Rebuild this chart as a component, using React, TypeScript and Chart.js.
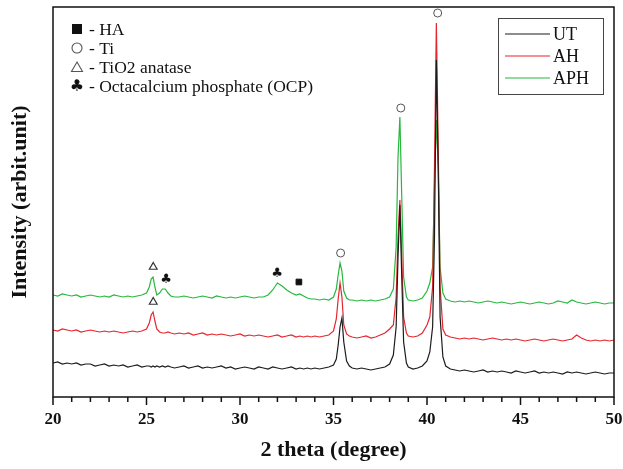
import React, { useEffect, useRef } from "react";
import { Chart, registerables } from "chart.js";

Chart.register(...registerables);

// 2-theta positions (degree)
const twoTheta = [
  20, 20.25, 20.5, 20.75, 21, 21.25, 21.5, 21.75, 22, 22.25, 22.5, 22.75, 23, 23.25, 23.5, 23.75, 24, 24.25, 24.5, 24.75, 25,
  25.15, 25.25, 25.35, 25.45, 25.55, 25.7, 25.85,
  26, 26.15, 26.3, 26.5,
  26.75, 27, 27.25, 27.5, 27.75, 28, 28.25, 28.5, 28.75, 29, 29.25, 29.5, 29.75, 30, 30.25, 30.5, 30.75, 31, 31.25, 31.5, 31.75, 32, 32.25, 32.5, 32.75, 33,
  33.2, 33.4, 33.6, 33.8,
  34, 34.25, 34.5, 34.75, 35,
  35.15, 35.25, 35.35, 35.45, 35.55, 35.7, 35.85,
  36, 36.25, 36.5, 36.75, 37, 37.25, 37.5, 37.75, 38,
  38.2, 38.35, 38.45, 38.55, 38.65, 38.75, 38.9,
  39, 39.25, 39.5, 39.75, 40,
  40.15, 40.3, 40.4, 40.5, 40.6, 40.7, 40.85,
  41, 41.25, 41.5, 41.75, 42, 42.25, 42.5, 42.75, 43, 43.25, 43.5, 43.75, 44, 44.25, 44.5, 44.75, 45, 45.25, 45.5, 45.75,
  46, 46.25, 46.5, 46.75, 47, 47.25, 47.5, 47.75, 48, 48.25, 48.5, 48.75, 49, 49.25, 49.5, 49.75, 50,
];

const utValues = [
  34, 35, 33, 34, 33, 34, 32, 33, 33, 31, 32, 33, 31, 32, 31, 32, 30, 31, 32, 30, 31,
  31, 30, 31, 30, 31, 30, 31,
  30, 31, 30, 29,
  30, 31, 29, 30, 31, 29, 30, 29, 30, 31, 29, 30, 28, 29, 30, 29, 28, 30, 29, 28, 30, 29, 28, 29, 30, 28,
  29, 28, 29, 28,
  29, 28, 29, 30, 32,
  38, 52, 70, 79, 55, 36, 31,
  29, 28, 29, 28, 27, 28, 29, 30, 33,
  42, 70, 140, 192, 120, 55, 34,
  30, 28, 29, 31, 36,
  45, 70, 160, 337, 230, 80, 40,
  31, 28, 27, 26, 27, 26, 25, 26, 27, 25, 26, 25, 26, 25, 24, 26, 25, 24, 25, 26,
  24, 25, 24, 25, 24, 23, 25, 24, 25, 24, 23, 24, 25, 24, 23, 24, 24,
];

const ahValues = [
  67, 66, 68, 67, 66, 67, 65, 66, 67, 66, 65, 66, 65, 66, 65, 64, 65, 66, 65, 66, 68,
  74, 82, 85, 76, 68, 65, 64,
  64, 65, 64, 63,
  64, 63, 64, 62, 63, 64, 62, 63, 62, 63, 62, 61, 62, 63, 61, 62, 61, 62, 61, 60, 61, 62, 60, 61, 62, 60,
  61, 60, 61, 60,
  61, 60, 61, 62, 66,
  78, 98, 114, 100, 72, 63, 61,
  60, 59, 60, 61, 59, 60, 62, 64, 68,
  72, 100, 160, 197, 140, 80, 64,
  61, 60, 61, 64, 72,
  80, 110, 230, 374, 250, 110, 68,
  62, 60, 59, 58, 59, 58, 59, 58, 57, 58, 59, 58, 57, 58, 57, 58, 57, 56, 57, 58,
  57, 56, 57, 58, 57, 56, 57, 58, 62, 59, 57, 56, 57, 56, 57, 56, 57,
];

const aphValues = [
  102, 101, 103, 102, 101, 102, 100, 101, 102, 101, 100, 101, 100, 102, 101, 100, 101, 100, 101, 102, 104,
  110, 118, 120, 110, 102, 104, 108,
  108, 104, 101, 100,
  100, 101, 100, 99, 100, 101, 100, 99, 101, 100, 99, 100, 99, 100, 101, 100, 99, 100, 100, 102, 107, 114, 111, 107, 104, 102,
  103, 101, 99, 98,
  98, 97, 98, 97, 100,
  108, 122, 134, 126, 106, 99, 97,
  97, 96, 97, 96, 97, 96, 97, 98, 100,
  108, 150, 240, 280, 200, 120, 100,
  97, 96, 97, 99, 106,
  114, 130, 210, 277, 230, 130, 104,
  98, 96, 95, 96, 95, 96, 95, 94, 95, 96, 95, 94, 95, 94, 93, 94, 95, 94, 93, 94,
  95, 94, 93, 94, 96, 95, 94, 97, 95, 94, 93, 94, 95, 94, 93, 94, 94,
];

const seriesLabels = ["UT", "AH", "APH"];
const seriesColors = ["#1c1c1c", "#e5262e", "#26b83e"];

const xTickValues = [20, 25, 30, 35, 40, 45, 50];

// phase markers placed over the peaks
const haMarks = [{ x: 33.15, y: 115 }];
const tiMarks = [
  { x: 35.38, y: 144 },
  { x: 38.6, y: 289 },
  { x: 40.57, y: 384 },
];
const anataseMarks = [
  { x: 25.36, y: 130 },
  { x: 25.36, y: 95 },
];
const ocpMarks = [
  { x: 26.04, y: 118 },
  { x: 31.98, y: 124 },
];

const phaseNames = ["HA", "Ti", "TiO2 anatase", "Octacalcium phosphate (OCP)"];

const SERIF = "'Liberation Serif', 'Times New Roman', serif";

export default function App() {
  const ref = useRef<HTMLCanvasElement | null>(null);

  useEffect(() => {
    if (!ref.current) return;

    const club = document.createElement("canvas");
    club.width = 14;
    club.height = 14;
    const cctx = club.getContext("2d")!;
    cctx.fillStyle = "#111";
    cctx.font = "13px 'DejaVu Sans'";
    cctx.textAlign = "center";
    cctx.textBaseline = "middle";
    cctx.fillText("♣", 7, 7.5);

    const drawSymbol = (ctx: CanvasRenderingContext2D, kind: number, cx: number, cy: number) => {
      ctx.save();
      if (kind === 0) {
        ctx.fillStyle = "#111";
        ctx.fillRect(cx - 5, cy - 5, 10, 10);
      } else if (kind === 1) {
        ctx.strokeStyle = "#555";
        ctx.lineWidth = 1.1;
        ctx.beginPath();
        ctx.arc(cx, cy, 5, 0, Math.PI * 2);
        ctx.stroke();
      } else if (kind === 2) {
        ctx.strokeStyle = "#555";
        ctx.lineWidth = 1.1;
        ctx.beginPath();
        ctx.moveTo(cx, cy - 5);
        ctx.lineTo(cx + 5.5, cy + 4.5);
        ctx.lineTo(cx - 5.5, cy + 4.5);
        ctx.closePath();
        ctx.stroke();
      } else {
        ctx.fillStyle = "#111";
        ctx.font = "16px 'DejaVu Sans'";
        ctx.textAlign = "center";
        ctx.textBaseline = "middle";
        ctx.fillText("♣", cx, cy + 1);
      }
      ctx.restore();
    };

    const framePlugin = {
      id: "framePlugin",
      afterDraw(chart: any) {
        const { ctx, chartArea } = chart;
        const xs = chart.scales.x;
        ctx.save();
        ctx.strokeStyle = "#111";
        ctx.lineWidth = 1.5;
        ctx.strokeRect(chartArea.left, chartArea.top, chartArea.right - chartArea.left, chartArea.bottom - chartArea.top);
        // tick marks (major every 5, minor every 1)
        for (let v = 20; v <= 50; v++) {
          const px = xs.getPixelForValue(v);
          const len = v % 5 === 0 ? 8 : 5;
          ctx.beginPath();
          ctx.moveTo(px, chartArea.bottom);
          ctx.lineTo(px, chartArea.bottom + len);
          ctx.stroke();
        }

        // phase legend, top-left
        ctx.textBaseline = "middle";
        phaseNames.forEach((name, i) => {
          const y = 29 + i * 19;
          drawSymbol(ctx, i, 77, y);
          ctx.fillStyle = "#111";
          ctx.font = `17.5px ${SERIF}`;
          ctx.fillText("- " + name, 89, y + 1);
        });

        // series legend, top-right
        const bx = 498, by = 18, bw = 105, bh = 76;
        ctx.lineWidth = 1;
        ctx.strokeStyle = "#444";
        ctx.strokeRect(bx + 0.5, by + 0.5, bw, bh);
        seriesLabels.forEach((lab, i) => {
          const y = by + 16 + i * 22;
          ctx.strokeStyle = seriesColors[i];
          ctx.lineWidth = 1.2;
          ctx.beginPath();
          ctx.moveTo(bx + 7, y);
          ctx.lineTo(bx + 52, y);
          ctx.stroke();
          ctx.fillStyle = "#111";
          ctx.font = `18px ${SERIF}`;
          ctx.fillText(lab, bx + 55, y + 1);
        });
        ctx.restore();
      },
    };

    const lineDatasets = [utValues, ahValues, aphValues].map((vals, i) => ({
      type: "line" as const,
      label: seriesLabels[i],
      data: twoTheta.map((t, k) => ({ x: t, y: vals[k] })),
      borderColor: seriesColors[i],
      borderWidth: 1.2,
      pointRadius: 0,
      tension: 0,
      order: i,
    }));

    const markerDatasets = [
      { type: "scatter" as const, label: "HA", data: haMarks, pointStyle: "rect", pointRadius: 4, backgroundColor: "#111", borderColor: "#111", borderWidth: 1, order: -1 },
      { type: "scatter" as const, label: "Ti", data: tiMarks, pointStyle: "circle", pointRadius: 4, backgroundColor: "#fff", borderColor: "#555", borderWidth: 1, order: -1 },
      { type: "scatter" as const, label: "TiO2 anatase", data: anataseMarks, pointStyle: "triangle", pointRadius: 4.5, backgroundColor: "#fff", borderColor: "#333", borderWidth: 1.2, order: -1 },
      { type: "scatter" as const, label: "OCP", data: ocpMarks, pointStyle: club, pointRadius: 6, backgroundColor: "#111", borderColor: "#111", order: -1 },
    ];

    const chart = new Chart(ref.current, {
      type: "line",
      data: { datasets: [...lineDatasets, ...markerDatasets] as any },
      options: {
        animation: false,
        responsive: false,
        maintainAspectRatio: false,
        layout: { padding: { top: 7, right: 0, left: 0, bottom: 0 } },
        plugins: { legend: { display: false }, tooltip: { enabled: false } },
        scales: {
          x: {
            type: "linear",
            min: 20,
            max: 50,
            afterFit(scale: any) {
              scale.height = 72;
              scale.paddingLeft = 0;
              scale.paddingRight = 9;
            },
            afterBuildTicks(scale: any) {
              scale.ticks = xTickValues.map((v) => ({ value: v }));
            },
            ticks: {
              color: "#111",
              font: { family: SERIF, size: 17, weight: "bold" },
              padding: 12,
              maxRotation: 0,
            },
            grid: { display: false, drawTicks: false },
            border: { display: false },
            title: {
              display: true,
              text: "2 theta (degree)",
              color: "#111",
              font: { family: SERIF, size: 22, weight: "bold" },
              padding: { top: 0, bottom: 5 },
            },
          },
          y: {
            type: "linear",
            min: 0,
            max: 390,
            afterFit(scale: any) {
              scale.width = 53;
            },
            ticks: { display: false },
            grid: { display: false, drawTicks: false },
            border: { display: false },
            title: {
              display: true,
              text: "Intensity (arbit.unit)",
              color: "#111",
              font: { family: SERIF, size: 22, weight: "bold" },
              padding: { top: 7, bottom: 0 },
            },
          },
        },
      } as any,
      plugins: [framePlugin],
    });

    return () => chart.destroy();
  }, []);

  return (
    <div style={{ position: "absolute", left: 0, top: 0, width: 623, height: 469, background: "#fff" }}>
      <canvas ref={ref} width={623} height={469} style={{ display: "block" }} />
    </div>
  );
}
